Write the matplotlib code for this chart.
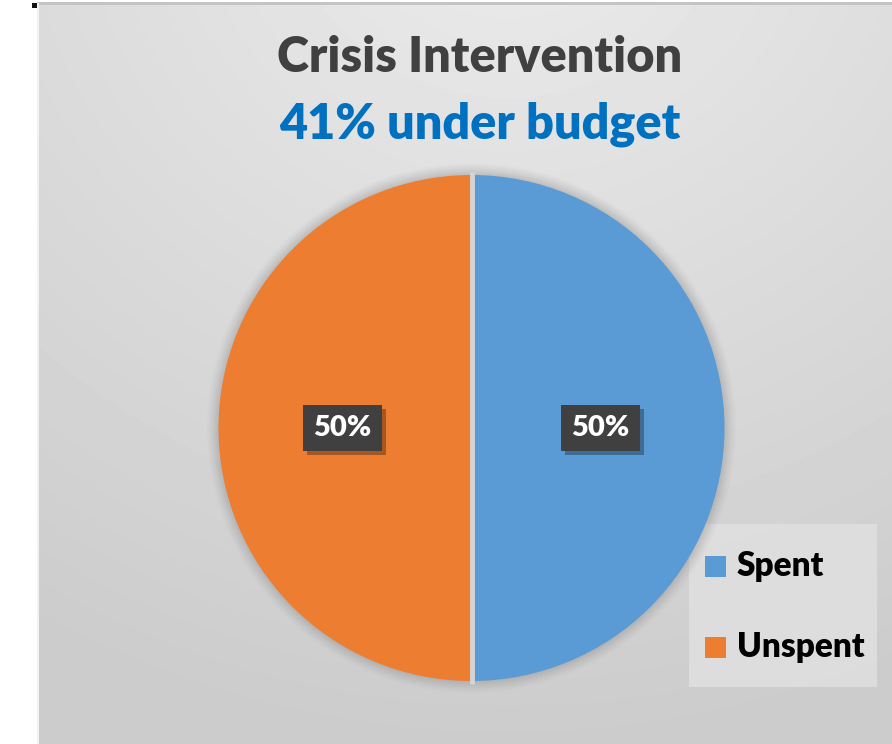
import numpy as np
import matplotlib
matplotlib.use("Agg")
import matplotlib.pyplot as plt
from matplotlib import patheffects
from matplotlib.patches import Rectangle, Circle

# Chart data
categories = ["Spent", "Unspent"]
values = [50, 50]
colors = ["#5b9bd5", "#ed7d31"]
title = "Crisis Intervention"
subtitle = "41% under budget"

W, H = 892, 744
fig = plt.figure(figsize=(W / 100, H / 100), dpi=100)
fig.patch.set_facecolor("white")

# Background panel in pixel coordinates
bg = fig.add_axes([0, 0, 1, 1])
bg.set_xlim(0, W)
bg.set_ylim(H, 0)
bg.axis("off")

px0, py0 = 37, 3
yy, xx = np.mgrid[0:H - py0, 0:W - px0]
cx, cy = (W - px0) * 0.55, -(H) * 0.15
d = np.hypot((xx - cx) / (W * 0.9), (yy - cy) / (H * 1.0))
shade = 0.925 - 0.11 * np.clip(d, 0, 1.2) / 1.0
shade = np.clip(shade, 0.80, 0.93)
bg.imshow(shade, cmap="gray", vmin=0, vmax=1, extent=(px0, W, H, py0),
          interpolation="bilinear", aspect="auto", zorder=0)
bg.add_patch(Rectangle((px0, py0 - 1), W - px0, 3, color="#c4c4c4", lw=0, zorder=1))
bg.add_patch(Rectangle((px0, py0), 2, H - py0, color="#f2f2f2", lw=0, zorder=1))
bg.add_patch(Rectangle((32, 3), 5, 5, color="#111111", lw=0, zorder=2))

font = ["Lato", "DejaVu Sans"]

# Titles
bg.text(480, 58, title, ha="center", va="center", fontsize=35,
        fontweight="heavy", family=font, color="#404040")
bg.text(480, 124, subtitle, ha="center", va="center", fontsize=35,
        fontweight="heavy", family=font, color="#0070c0")

# Pie
pcx, pcy, r = 471.5, 428, 253
ax = fig.add_axes([(pcx - r * 1.1) / W, (H - pcy - r * 1.1) / H,
                   2.2 * r / W, 2.2 * r / H])
ax.set_xlim(-1.1, 1.1)
ax.set_ylim(-1.1, 1.1)
ax.set_aspect("equal")
ax.axis("off")

# soft glow around the pie
for k, a in zip(np.linspace(1.045, 1.0, 8), np.linspace(0.03, 0.08, 8)):
    ax.add_patch(Circle((0, 0), k, color="#808080", alpha=a, lw=0, zorder=0))

wedges, texts, autotexts = ax.pie(
    values, colors=colors, startangle=90, counterclock=False, radius=1.0,
    autopct="%1.0f%%", pctdistance=0.51, frame=True,
    wedgeprops=dict(linewidth=0),
    textprops=dict(color="white", fontsize=21, fontweight="heavy",
                   family=font))
for w in wedges:
    w.set_zorder(2)
ax.set_xlim(-1.1, 1.1)
ax.set_ylim(-1.1, 1.1)
ax.axis("off")
ax.plot([0, 0], [-1.01, 1.01], color="#d4d4d4", lw=3.5, zorder=3,
        solid_capstyle="butt")

for t in autotexts:
    t.set_zorder(5)
    t.set_bbox(dict(boxstyle="square,pad=0.35", facecolor="#404040",
                    edgecolor="none"))
    t.get_bbox_patch().set_path_effects([
        patheffects.SimplePatchShadow(offset=(3, -3), shadow_rgbFace="#000000",
                                      alpha=0.3),
        patheffects.Normal()])

# Legend
bg.add_patch(Rectangle((689, 524), 188, 163, facecolor="#e0e0e0",
                       edgecolor="none", alpha=0.85, zorder=3))
for i, (lab, c) in enumerate(zip(categories, colors)):
    y = 566 + i * 81
    bg.add_patch(Rectangle((705, y - 10.5), 21, 21, color=c, lw=0, zorder=4))
    bg.text(737, y, lab, ha="left", va="center", fontsize=24,
            fontweight="heavy", family=font,
            color="#000000", zorder=4)

fig.savefig("out.png", dpi=100, facecolor=fig.get_facecolor())
